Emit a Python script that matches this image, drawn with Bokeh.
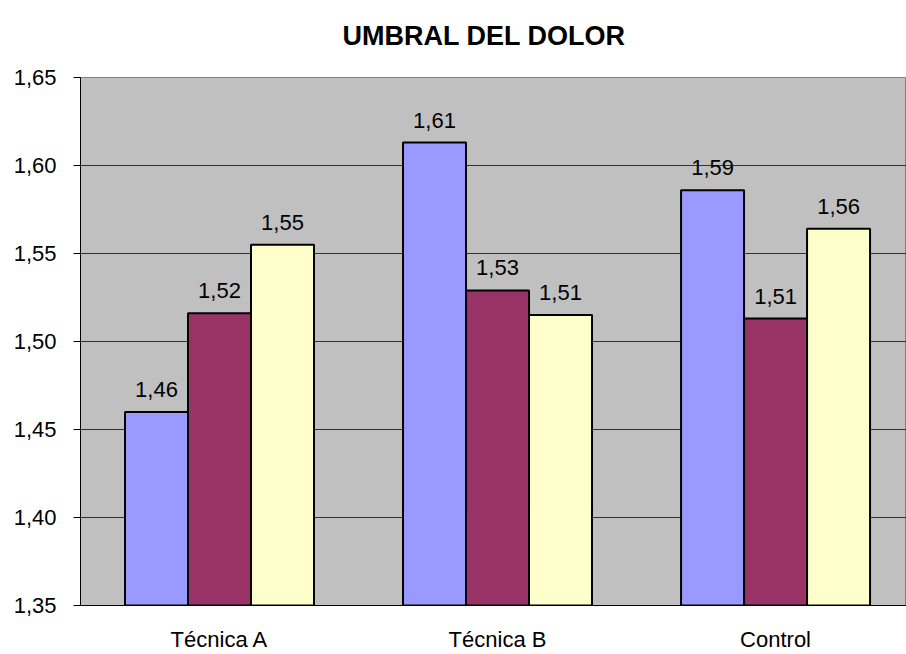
from bokeh.plotting import figure
from bokeh.models import Range1d, FixedTicker, ColumnDataSource, Title
from bokeh.transform import dodge
from bokeh.core.properties import value
from bokeh.embed import file_html
from bokeh.resources import INLINE

categories = ["Técnica A", "Técnica B", "Control"]
serie_1 = [1.460, 1.613, 1.586]
serie_2 = [1.516, 1.529, 1.513]
serie_3 = [1.555, 1.515, 1.564]
y_ticks = [1.35, 1.40, 1.45, 1.50, 1.55, 1.60, 1.65]
y_tick_labels = ["1,35", "1,40", "1,45", "1,50", "1,55", "1,60", "1,65"]
title_text = "UMBRAL DEL DOLOR"

colors = ["#9999FF", "#993366", "#FFFFCC"]
series = [serie_1, serie_2, serie_3]

def fmt(v):
    return f"{v:.2f}".replace(".", ",")

x_pos = [i + 0.5 for i in range(len(categories))]
data = dict(x=x_pos)
for k, s in enumerate(series):
    data[f"s{k}"] = s
    data[f"l{k}"] = [fmt(v) for v in s]
src = ColumnDataSource(data)

FONT = "Liberation Sans"

p = figure(width=906, height=654, output_backend="svg", toolbar_location=None,
           x_range=Range1d(0, 2.971), y_range=Range1d(1.35, 1.65),
           min_border_left=80, min_border_right=0, min_border_top=0, min_border_bottom=49,
           background_fill_color="#C0C0C0", border_fill_color="white")
p.outline_line_color = "#808080"
p.outline_line_width = 1

p.title.text = title_text
p.title.text_font = FONT
p.title.text_font_size = "27px"
p.title.text_font_style = "bold"
p.title.text_color = "black"
p.title.align = "left"
p.title.offset = 262
p.title.standoff = 37

spacer = Title(text=" ", text_font_size="6px", standoff=0)
p.add_layout(spacer, "above")

w = 0.2266
offsets = [-w, 0.0, w]
for k in range(3):
    p.vbar(x=dodge("x", offsets[k], range=p.x_range), top=f"s{k}", bottom=1.35, width=w,
           source=src, fill_color=colors[k], line_color="black", line_width=2)
    p.text(x=dodge("x", offsets[k], range=p.x_range), y=f"s{k}", text=f"l{k}", source=src,
           text_align="center", text_baseline="bottom", y_offset=-15,
           text_font=value(FONT), text_font_size="22px", text_color="black")

# y axis
p.yaxis.ticker = FixedTicker(ticks=y_ticks)
p.yaxis.major_label_overrides = {t: l for t, l in zip(y_ticks, y_tick_labels)}
p.yaxis.major_label_text_font = FONT
p.yaxis.major_label_text_font_size = "22px"
p.yaxis.major_label_text_color = "black"
p.yaxis.major_tick_out = 7
p.yaxis.major_tick_in = 0
p.yaxis.minor_tick_line_color = None
p.yaxis.axis_line_color = "black"
p.yaxis.major_tick_line_color = "black"
p.yaxis.major_label_standoff = 17

# x axis
p.xaxis.ticker = FixedTicker(ticks=x_pos)
p.xaxis.major_label_overrides = {x: c for x, c in zip(x_pos, categories)}
p.xaxis.major_label_text_font = FONT
p.xaxis.major_label_text_font_size = "22px"
p.xaxis.major_label_text_color = "black"
p.xaxis.major_tick_out = 0
p.xaxis.major_tick_in = 0
p.xaxis.minor_tick_line_color = None
p.xaxis.axis_line_color = "black"
p.xaxis.major_label_standoff = 21

p.xgrid.grid_line_color = None
p.ygrid.grid_line_color = "#333333"
p.ygrid.grid_line_width = 1

open("out.html", "w").write(file_html(p, INLINE))
